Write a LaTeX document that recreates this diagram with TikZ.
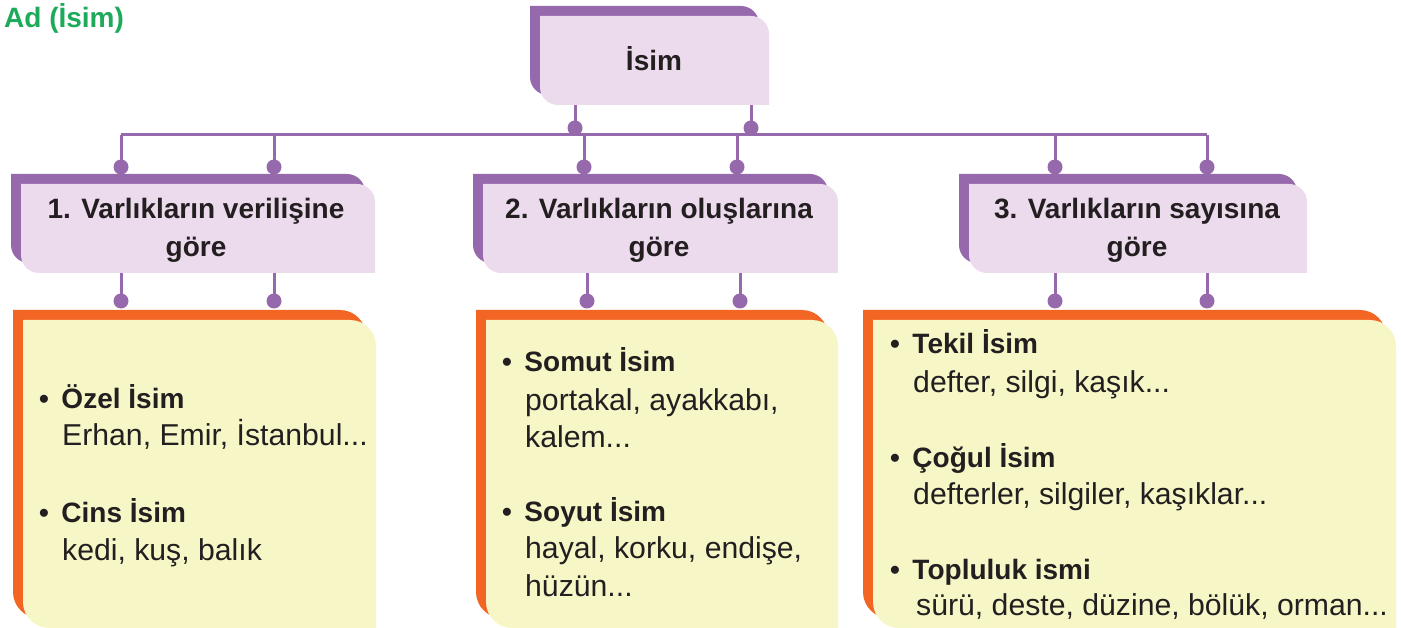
\documentclass[tikz,border=0pt]{standalone}
\usepackage{fontspec}
\setmainfont{Liberation Sans}
\definecolor{cpurple}{HTML}{9669AC}
\definecolor{cpurplelight}{HTML}{EBDBEC}
\definecolor{corange}{HTML}{F26522}
\definecolor{cyellow}{HTML}{F7F6C6}
\definecolor{cgreen}{HTML}{1DAA5A}
\definecolor{ctext}{HTML}{231F20}
% #1 back colour, #2 front colour, #3 L, #4 T, #5 R, #6 B, #7 radius (front shape); back is shifted by (-10,-10)
\newcommand\cardbox[7]{%
  \fill[#1] ({#3-10},{#4-10}) -- ({#5-10-#7},{#4-10})
     .. controls ({#5-10-0.448*#7},{#4-10}) and ({#5-10},{#4-10+0.448*#7}) .. ({#5-10},{#4-10+#7})
     -- ({#5-10},{#6-10}) -- ({#3-10+#7},{#6-10})
     .. controls ({#3-10+0.448*#7},{#6-10}) and ({#3-10},{#6-10-0.448*#7}) .. ({#3-10},{#6-10-#7}) -- cycle;
  \fill[#2] (#3,#4) -- ({#5-#7},#4)
     .. controls ({#5-0.448*#7},#4) and (#5,{#4+0.448*#7}) .. (#5,{#4+#7})
     -- (#5,#6) -- ({#3+#7},#6)
     .. controls ({#3+0.448*#7},#6) and (#3,{#6-0.448*#7}) .. (#3,{#6-#7}) -- cycle;}
\newcommand\bul{•\hspace{12.5pt}}
\tikzset{
  conn/.style={draw=cpurple, line width=3pt},
  dot/.style={circle, fill=cpurple, inner sep=0pt, minimum size=15pt},
  head/.style={font=\fontsize{28}{34}\selectfont\bfseries, text=ctext, inner sep=0pt},
  lvltwo/.style={font=\fontsize{28}{34}\selectfont\bfseries, text=ctext, inner sep=0pt, anchor=base},
  item/.style={font=\fontsize{28}{34}\selectfont\bfseries, text=ctext, inner sep=0pt, anchor=base west},
  example/.style={font=\fontsize{30.2}{34}\selectfont, text=ctext, inner sep=0pt, anchor=base west},
}
\begin{document}
\begin{tikzpicture}[x=1pt, y=-1pt]
\useasboundingbox (0,0) rectangle (1401,628);
% title
\node[font=\fontsize{28}{34}\selectfont\bfseries, text=cgreen, inner sep=0pt, anchor=base west] (title) at (4,28) {Ad (İsim)};

% ---------- connectors ----------
% top box down to bus
\coordinate (tA) at (575,105);
\coordinate (tB) at (751,105);
\node[dot] (dtA) at (575,128) {};
\node[dot] (dtB) at (751,128) {};
\draw[conn] (tA) -- (dtA.center);
\draw[conn] (tB) -- (dtB.center);
% bus
\coordinate (busL) at (121,135);
\coordinate (busR) at (1207,135);
\draw[conn] (busL) -- (busR);
% bus down to level 2
\foreach \xx/\nm in {121/a1,274/a2,584/b1,737/b2,1055/c1,1207/c2}{
  \coordinate (bus\nm) at (\xx,135);
  \node[dot] (d2\nm) at (\xx,167) {};
  \draw[conn] (bus\nm) -- (d2\nm.center);
}
% level 2 down to level 3
\foreach \xx/\nm in {121/a1,274/a2,587/b1,740/b2,1055/c1,1207/c2}{
  \coordinate (l2\nm) at (\xx,273);
  \node[dot] (d3\nm) at (\xx,301) {};
  \draw[conn] (l2\nm) -- (d3\nm.center);
}

% ---------- top box ----------
\cardbox{cpurple}{cpurplelight}{540}{16}{769}{105}{18}
\node[head, anchor=base] (isim) at (654,71) {İsim};

% ---------- level 2 boxes ----------
\cardbox{cpurple}{cpurplelight}{21}{184}{375}{273}{18}
\cardbox{cpurple}{cpurplelight}{483}{184}{838}{273}{18}
\cardbox{cpurple}{cpurplelight}{969}{184}{1307}{273}{18}
\node[lvltwo] (k1a) at (196,219) {1. Varlıkların verilişine};
\node[lvltwo] (k1b) at (196,257) {göre};
\node[lvltwo] (k2a) at (659,219) {2. Varlıkların oluşlarına};
\node[lvltwo] (k2b) at (659,257) {göre};
\node[lvltwo] (k3a) at (1137,219) {3. Varlıkların sayısına};
\node[lvltwo] (k3b) at (1137,257) {göre};

% ---------- level 3 boxes ----------
\cardbox{corange}{cyellow}{23}{320}{376}{628}{26}
\cardbox{corange}{cyellow}{486}{320}{838}{628}{26}
\cardbox{corange}{cyellow}{873}{320}{1396}{628}{26}

% box 1
\node[item] (i1) at (39,409) {\bul Özel İsim};
\node[example] (e1) at (62,446) {Erhan, Emir, İstanbul...};
\node[item] (i2) at (39,522) {\bul Cins İsim};
\node[example] (e2) at (62,560) {kedi, kuş, balık};
% box 2
\node[item] (i3) at (502,372) {\bul Somut İsim};
\node[example] (e3) at (525,410) {portakal, ayakkabı,};
\node[example] (e3b) at (525,447) {kalem...};
\node[item] (i4) at (502,521) {\bul Soyut İsim};
\node[example] (e4) at (525,558) {hayal, korku, endişe,};
\node[example] (e4b) at (525,596) {hüzün...};
% box 3
\node[item] (i5) at (890,354) {\bul Tekil İsim};
\node[example] (e5) at (913,392) {defter, silgi, kaşık...};
\node[item] (i6) at (890,467) {\bul Çoğul İsim};
\node[example] (e6) at (913,504) {defterler, silgiler, kaşıklar...};
\node[item] (i7) at (890,579) {\bul Topluluk ismi};
\node[example] (e7) at (916,615) {sürü, deste, düzine, bölük, orman...};
\end{tikzpicture}
\end{document}
